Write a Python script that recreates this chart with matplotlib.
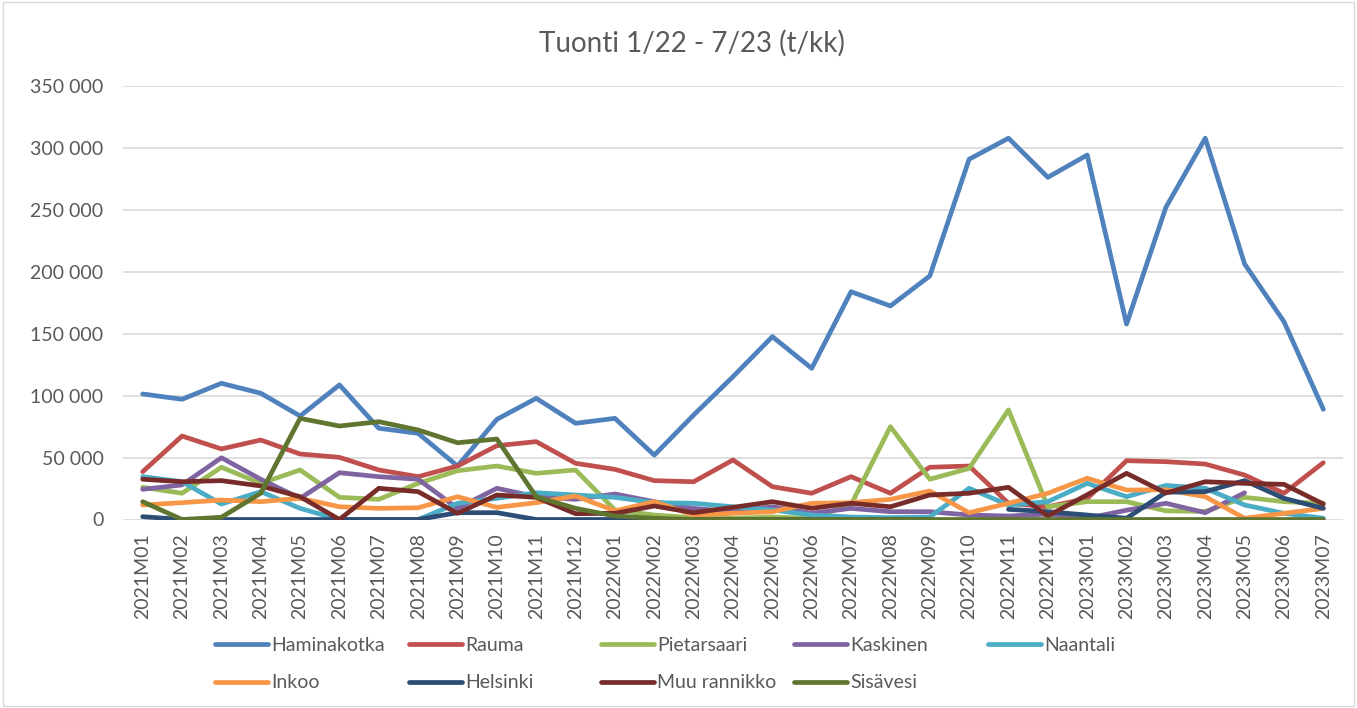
import numpy as np
import matplotlib
matplotlib.use("Agg")
import matplotlib.pyplot as plt
from matplotlib.patches import Rectangle
from matplotlib.ticker import FuncFormatter

nan = np.nan

MONTHS = [
    "2021M01", "2021M02", "2021M03", "2021M04", "2021M05", "2021M06", "2021M07",
    "2021M08", "2021M09", "2021M10", "2021M11", "2021M12",
    "2022M01", "2022M02", "2022M03", "2022M04", "2022M05", "2022M06", "2022M07",
    "2022M08", "2022M09", "2022M10", "2022M11", "2022M12",
    "2023M01", "2023M02", "2023M03", "2023M04", "2023M05", "2023M06", "2023M07",
]

haminakotka = [101400, 97100, 110000, 102000, 83600, 108700, 73700, 69600, 43200, 80900,
               97900, 77700, 81700, 52000, 84400, 115400, 147700, 122100, 184000, 172500,
               196700, 291000, 308000, 276400, 294400, 157900, 252200, 308000, 206400,
               159800, 89000]
rauma = [38600, 67400, 57000, 64200, 52900, 50200, 40000, 34600, 43200, 59600, 62900,
         45400, 40500, 31400, 30500, 48100, 26500, 21200, 34600, 21200, 42200, 43200,
         13100, 10300, 17000, 47500, 46700, 44800, 35900, 21200, 45900]
pietarsaari = [26000, 21200, 42200, 29200, 40000, 17900, 16300, 29200, 39400, 43200,
               37300, 40000, 7700, 3600, 1500, 1000, 2000, 1000, 12000, 75000, 32500,
               41300, 88500, 10300, 14400, 14400, 7000, 6500, 17900, 14400, 13100]
kaskinen = [24400, 27900, 49900, 32500, 17100, 37800, 34600, 32500, 9000, 25200, 18400,
            16300, 20600, 14400, 9000, 6300, 10300, 5000, 9000, 6300, 6300, 3600, 2800,
            4400, 1000, 7500, 13100, 5500, 21600, nan, nan]
naantali = [34600, 30500, 12500, 22500, 9000, 0, 0, 0, 13100, 17100, 21600, 19800, 17900,
            13600, 13100, 10300, 7700, 3600, 2000, 1500, 2000, 25200, 11700, 14400, 29200,
            18400, 27500, 25200, 11700, 5000, 1000]
inkoo = [11700, 13600, 15700, 14400, 17100, 10300, 9000, 9500, 18400, 9800, 13600, 19000,
         7000, 14400, 3600, 5000, 6300, 13100, 13600, 16300, 23000, 5500, 13100, 21200,
         33300, 23800, 24000, 18400, 1000, 5000, 9000]
helsinki = [2300, 0, 0, 0, 0, 0, 0, 0, 5500, 5500, 0, 0, 0, 0, 0, 0, 0, 0, 0, 0, 0, nan,
            8200, 6300, 3600, 1000, 22000, 22500, 31400, 17100, 9000]
muu_rannikko = [32500, 30500, 31400, 27100, 18400, 0, 25200, 22500, 5000, 19800, 17900,
                4700, 5000, 10900, 5500, 9800, 14400, 9000, 13100, 10300, 19800, 21200,
                26000, 2800, 20000, 37300, 21400, 30500, 29200, 28400, 12500]
sisavesi = [14400, 0, 1800, 21200, 81700, 75500, 79000, 72300, 62000, 65000, 18400, 9000,
            2800, 1000, 0, 0, 0, 0, 0, 0, 0, 0, 0, 0, 0, 0, 0, 0, 0, 0, 0]

# Excel 2010 palette, in series order
SERIES = [
    ("Haminakotka", haminakotka, "#4F81BD"),
    ("Rauma", rauma, "#C0504D"),
    ("Pietarsaari", pietarsaari, "#9BBB59"),
    ("Kaskinen", kaskinen, "#8064A2"),
    ("Naantali", naantali, "#4BACC6"),
    ("Inkoo", inkoo, "#F79646"),
    ("Helsinki", helsinki, "#2C4D75"),
    ("Muu rannikko", muu_rannikko, "#772C2A"),
    ("Sisävesi", sisavesi, "#5F7530"),
]

TEXT = "#595959"
GRID = "#D9D9D9"
plt.rcParams.update({"font.family": ["Lato", "DejaVu Sans"]})

W, H = 1357, 708
fig = plt.figure(figsize=(W / 100, H / 100), dpi=100)
ax = fig.add_axes([123 / W, 1 - 519.5 / H, (1343 - 123) / W, (519.5 - 86.2) / H])

x = np.arange(len(MONTHS))
handles = {}
for name, vals, color in SERIES:
    (ln,) = ax.plot(x, np.array(vals, dtype=float), color=color, lw=3.4,
                    solid_capstyle="round", solid_joinstyle="round", label=name)
    handles[name] = ln

ax.set_xlim(-0.5, len(MONTHS) - 0.5)
ax.set_ylim(0, 350000)
ax.set_yticks(np.arange(0, 350001, 50000))
ax.yaxis.set_major_formatter(FuncFormatter(lambda v, _: f"{v:,.0f}".replace(",", " ")))
ax.set_xticks(x)
ax.set_xticklabels(MONTHS, rotation=90)
ax.tick_params(axis="y", length=0, pad=14, labelsize=14, labelcolor=TEXT)
ax.tick_params(axis="x", length=0, pad=10, labelsize=14, labelcolor=TEXT)
ax.grid(axis="y", color=GRID, lw=1.2)
ax.set_axisbelow(True)
for s in ax.spines.values():
    s.set_visible(False)

fig.text(692 / W, 1 - 43 / H, "Tuonti 1/22 - 7/23 (t/kk)", ha="center", va="center",
         fontsize=20, color=TEXT)

# legend laid out like Excel: fixed-width columns, row-wise order
cols = [["Haminakotka", "Inkoo"], ["Rauma", "Helsinki"], ["Pietarsaari", "Muu rannikko"],
        ["Kaskinen", "Sisävesi"], ["Naantali"]]
col_x = [215, 409, 601, 794, 988]
for names, cx in zip(cols, col_x):
    leg = fig.legend([handles[n] for n in names], names, loc="upper left",
                     bbox_to_anchor=(cx / W, 1 - 637 / H), frameon=False, fontsize=14,
                     handlelength=2.7, handletextpad=0.2, borderpad=0, borderaxespad=0,
                     labelspacing=1.05, labelcolor=TEXT)

fig.add_artist(Rectangle((0.002, 0.003), 0.996, 0.994, transform=fig.transFigure,
                         fill=False, edgecolor=GRID, lw=1))

fig.savefig("out.png", dpi=100)
